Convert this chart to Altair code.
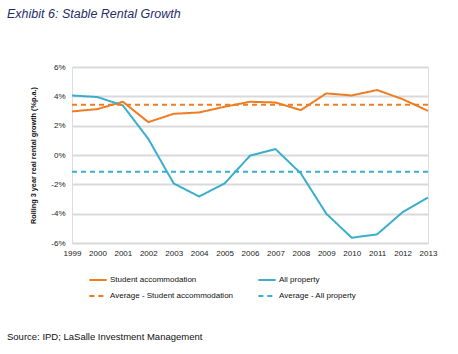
import altair as alt
import pandas as pd

years = list(range(1999, 2014))
student = [2.97, 3.13, 3.63, 2.24, 2.81, 2.90, 3.29, 3.63, 3.58, 3.06, 4.20, 4.06, 4.43, 3.81, 3.01]
all_property = [4.06, 3.95, 3.38, 1.10, -1.94, -2.83, -1.94, -0.05, 0.41, -1.26, -4.00, -5.64, -5.41, -3.90, -2.90]
avg_student = 3.42
avg_all = -1.14

series_names = ["Student accommodation", "Average - Student accommodation",
                "All property", "Average - All property"]
series_colors = ["#EE7D22", "#EE7D22", "#3AAFCB", "#3AAFCB"]
series_dash = [[1, 0], [5, 4], [1, 0], [5, 4]]

rows = []
for i, y in enumerate(years):
    rows.append({"year": y, "value": student[i], "series": "Student accommodation"})
    rows.append({"year": y, "value": all_property[i], "series": "All property"})
    rows.append({"year": y, "value": avg_student, "series": "Average - Student accommodation"})
    rows.append({"year": y, "value": avg_all, "series": "Average - All property"})
df = pd.DataFrame(rows)

font = "Liberation Sans"

lines = alt.Chart(df).mark_line(strokeWidth=2, clip=False).encode(
    x=alt.X("year:Q", scale=alt.Scale(domain=[1999, 2013], nice=False, zero=False),
            axis=alt.Axis(values=years, format="d", grid=False, domain=False, ticks=False,
                          labelPadding=6, labelFontSize=8, labelColor="#222222",
                          labelFont=font, title=None, labelFlush=False)),
    y=alt.Y("value:Q", scale=alt.Scale(domain=[-6, 6], nice=False),
            axis=alt.Axis(values=[-6, -4, -2, 0, 2, 4, 6], labelExpr="datum.value + '%'",
                          grid=True, gridColor="#D9D9D9", gridWidth=2, domain=False, ticks=False,
                          labelPadding=7, labelFontSize=8, labelColor="#222222", labelFont=font,
                          title="Rolling 3 year real rental growth (%p.a.)",
                          titleFont=font, titleFontSize=7.3, titleFontWeight="bold",
                          titleColor="#111111", titlePadding=13)),
    color=alt.Color("series:N", scale=alt.Scale(domain=series_names, range=series_colors),
                    sort=series_names,
                    legend=alt.Legend(orient="none", legendX=16, legendY=203, columns=2,
                                      title=None, symbolType="stroke", symbolSize=300,
                                      symbolStrokeWidth=2, labelFont=font, labelFontSize=8,
                                      labelColor="#111111", columnPadding=20, rowPadding=2,
                                      labelOffset=2, symbolOffset=0)),
    strokeDash=alt.StrokeDash("series:N", scale=alt.Scale(domain=series_names, range=series_dash),
                              sort=series_names, legend=None),
    detail="series:N",
)

source = alt.Chart(pd.DataFrame({"t": ["Source: IPD; LaSalle Investment Management"]})).mark_text(
    align="left", baseline="middle", font=font, fontSize=9.5, color="#111111"
).encode(x=alt.value(-65), y=alt.value(270), text="t:N")

chart = alt.layer(lines, source).properties(
    width=356, height=176,
    padding={"left": 72, "top": 67, "right": 30, "bottom": 111},
    autosize=alt.AutoSizeParams(type="none"),
    title=alt.TitleParams("Exhibit 6: Stable Rental Growth", anchor="start", dx=-65, dy=-39,
                          font=font, fontSize=12.5, fontStyle="italic", fontWeight="normal",
                          color="#1F2D6B", frame="group"),
).configure_view(stroke=None).configure(background="white")

chart.save("out.html", embed_options={"renderer": "svg", "actions": False})
